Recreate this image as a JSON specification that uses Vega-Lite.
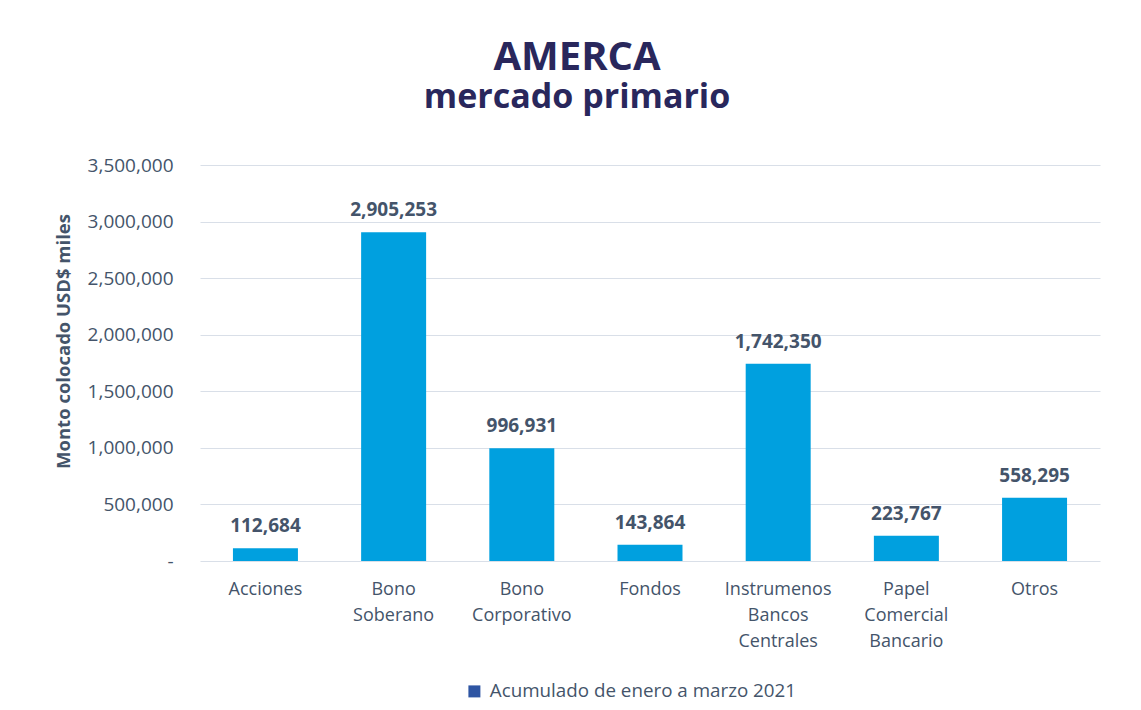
{
  "$schema": "https://vega.github.io/schema/vega-lite/v6.json",
  "width": 900,
  "height": 396,
  "autosize": {"type": "none"},
  "padding": {"left": 200, "top": 165, "right": 41, "bottom": 149},
  "background": "white",
  "config": {
    "font": "Open Sans",
    "view": {"stroke": null}
  },
  "title": {
    "text": "AMERCA",
    "subtitle": "mercado primario",
    "anchor": "middle",
    "frame": "bounds",
    "font": "Open Sans",
    "fontSize": 40,
    "fontWeight": "bold",
    "color": "#29275c",
    "subtitleFont": "Open Sans",
    "subtitleFontSize": 34,
    "subtitleFontWeight": "bold",
    "subtitleColor": "#29275c",
    "subtitlePadding": 3,
    "offset": 41
  },
  "data": {
    "values": [
      {"categoria": "Acciones", "serie": "Acumulado de enero a marzo 2021", "monto": 112684},
      {"categoria": "Bono|Soberano", "serie": "Acumulado de enero a marzo 2021", "monto": 2905253},
      {"categoria": "Bono|Corporativo", "serie": "Acumulado de enero a marzo 2021", "monto": 996931},
      {"categoria": "Fondos", "serie": "Acumulado de enero a marzo 2021", "monto": 143864},
      {"categoria": "Instrumenos|Bancos|Centrales", "serie": "Acumulado de enero a marzo 2021", "monto": 1742350},
      {"categoria": "Papel|Comercial|Bancario", "serie": "Acumulado de enero a marzo 2021", "monto": 223767},
      {"categoria": "Otros", "serie": "Acumulado de enero a marzo 2021", "monto": 558295}
    ]
  },
  "encoding": {
    "x": {
      "field": "categoria",
      "type": "nominal",
      "sort": null,
      "scale": {"paddingInner": 0.493, "paddingOuter": 0.257},
      "axis": {
        "title": null,
        "labelAngle": 0,
        "labelExpr": "split(datum.label, '|')",
        "labelFontSize": 18,
        "labelColor": "#44546a",
        "labelLineHeight": 26,
        "labelPadding": 19,
        "ticks": false,
        "tickSize": 0,
        "domain": false,
        "grid": false
      }
    },
    "y": {
      "field": "monto",
      "type": "quantitative",
      "scale": {"domain": [0, 3500000]},
      "axis": {
        "title": "Monto colocado USD$ miles",
        "titleFontSize": 18.5,
        "titleFontWeight": "bold",
        "titleColor": "#44546a",
        "titlePadding": 14,
        "titleY": 176,
        "values": [0, 500000, 1000000, 1500000, 2000000, 2500000, 3000000, 3500000],
        "labelExpr": "datum.value == 0 ? '-' : format(datum.value, ',')",
        "labelFontSize": 19,
        "labelColor": "#44546a",
        "labelPadding": 27,
        "ticks": false,
        "tickSize": 0,
        "domain": false,
        "grid": true,
        "gridColor": "#d9dfe8",
        "gridWidth": 1.2
      }
    }
  },
  "layer": [
    {
      "mark": {"type": "bar", "color": "#00a0df"}
    },
    {
      "mark": {"type": "square", "size": 0, "filled": true, "opacity": 1},
      "encoding": {
        "color": {
          "field": "serie",
          "type": "nominal",
          "scale": {"range": ["#2e55a3"]},
          "legend": {
            "title": null,
            "orient": "none",
            "legendX": 265,
            "legendY": 517,
            "direction": "horizontal",
            "symbolType": "square",
            "symbolSize": 144,
            "symbolStrokeWidth": 0,
            "labelFontSize": 18.8,
            "labelLimit": 0,
            "labelColor": "#44546a",
            "labelOffset": 6
          }
        }
      }
    },
    {
      "mark": {
        "type": "text",
        "baseline": "alphabetic",
        "dy": -16,
        "fontSize": 19,
        "fontWeight": "bold",
        "color": "#44546a"
      },
      "encoding": {
        "text": {"field": "monto", "type": "quantitative", "format": ","}
      }
    }
  ]
}
